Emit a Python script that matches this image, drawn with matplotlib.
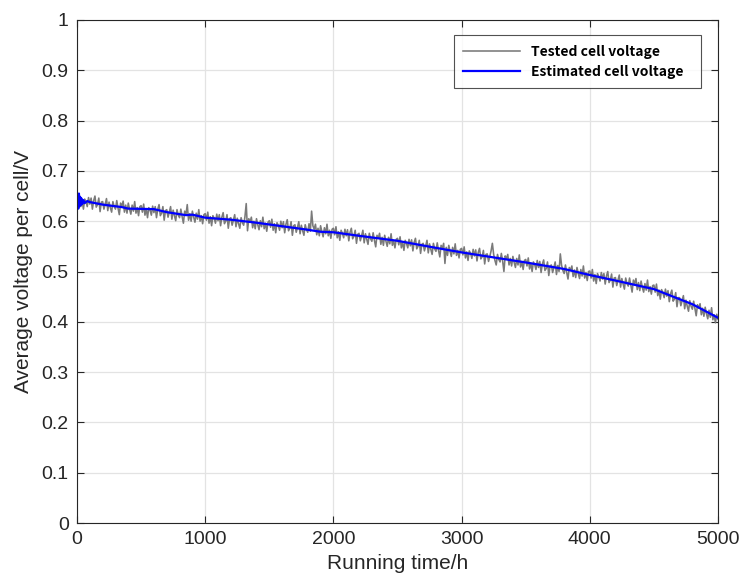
import numpy as np
import matplotlib
matplotlib.use("Agg")
import matplotlib.pyplot as plt

# Tested cell voltage, sampled every 10 h from 0 to 5000 h
tested_time = list(range(0, 5001, 10))
tested_voltage = [
    0.648, 0.635, 0.651, 0.629, 0.642, 0.624, 0.644, 0.639, 0.629, 0.647,
    0.634, 0.646, 0.624, 0.641, 0.650, 0.628, 0.633, 0.646, 0.619, 0.638,
    0.639, 0.624, 0.634, 0.645, 0.621, 0.638, 0.627, 0.618, 0.639, 0.629,
    0.624, 0.641, 0.626, 0.613, 0.636, 0.630, 0.640, 0.618, 0.632, 0.616,
    0.636, 0.624, 0.614, 0.632, 0.620, 0.639, 0.616, 0.627, 0.611, 0.629,
    0.631, 0.618, 0.634, 0.612, 0.625, 0.607, 0.627, 0.622, 0.612, 0.630,
    0.617, 0.629, 0.607, 0.624, 0.633, 0.611, 0.616, 0.629, 0.602, 0.621,
    0.623, 0.608, 0.618, 0.629, 0.604, 0.622, 0.611, 0.601, 0.623, 0.612,
    0.607, 0.624, 0.609, 0.596, 0.620, 0.613, 0.633, 0.602, 0.615, 0.600,
    0.620, 0.608, 0.598, 0.616, 0.604, 0.623, 0.600, 0.611, 0.595, 0.613,
    0.615, 0.602, 0.618, 0.596, 0.609, 0.591, 0.611, 0.606, 0.596, 0.614,
    0.601, 0.613, 0.591, 0.608, 0.617, 0.595, 0.600, 0.613, 0.586, 0.605,
    0.607, 0.592, 0.602, 0.613, 0.589, 0.606, 0.595, 0.586, 0.607, 0.597,
    0.592, 0.609, 0.635, 0.581, 0.605, 0.598, 0.608, 0.587, 0.600, 0.585,
    0.605, 0.593, 0.583, 0.601, 0.589, 0.608, 0.585, 0.596, 0.580, 0.598,
    0.601, 0.588, 0.604, 0.582, 0.595, 0.577, 0.597, 0.592, 0.582, 0.600,
    0.587, 0.599, 0.577, 0.594, 0.603, 0.581, 0.586, 0.599, 0.572, 0.591,
    0.593, 0.578, 0.588, 0.599, 0.575, 0.592, 0.581, 0.572, 0.593, 0.583,
    0.578, 0.595, 0.580, 0.620, 0.591, 0.584, 0.594, 0.573, 0.586, 0.571,
    0.591, 0.579, 0.569, 0.587, 0.575, 0.594, 0.571, 0.582, 0.566, 0.584,
    0.586, 0.573, 0.589, 0.567, 0.579, 0.562, 0.582, 0.576, 0.567, 0.584,
    0.571, 0.583, 0.561, 0.578, 0.586, 0.565, 0.570, 0.582, 0.556, 0.574,
    0.576, 0.561, 0.571, 0.582, 0.557, 0.575, 0.564, 0.554, 0.576, 0.565,
    0.560, 0.577, 0.562, 0.549, 0.572, 0.566, 0.576, 0.554, 0.568, 0.552,
    0.572, 0.560, 0.550, 0.568, 0.555, 0.575, 0.552, 0.562, 0.547, 0.564,
    0.566, 0.553, 0.569, 0.547, 0.559, 0.542, 0.562, 0.556, 0.547, 0.564,
    0.551, 0.563, 0.541, 0.558, 0.566, 0.545, 0.550, 0.562, 0.536, 0.554,
    0.556, 0.541, 0.551, 0.562, 0.537, 0.555, 0.544, 0.534, 0.556, 0.545,
    0.540, 0.557, 0.542, 0.529, 0.552, 0.546, 0.556, 0.516, 0.548, 0.532,
    0.552, 0.540, 0.530, 0.548, 0.535, 0.555, 0.532, 0.542, 0.527, 0.544,
    0.546, 0.533, 0.549, 0.527, 0.539, 0.522, 0.541, 0.536, 0.526, 0.544,
    0.531, 0.543, 0.521, 0.538, 0.546, 0.525, 0.529, 0.542, 0.515, 0.534,
    0.535, 0.520, 0.530, 0.541, 0.556, 0.534, 0.522, 0.513, 0.534, 0.524,
    0.519, 0.536, 0.521, 0.500, 0.531, 0.525, 0.534, 0.513, 0.526, 0.511,
    0.530, 0.518, 0.508, 0.526, 0.513, 0.533, 0.509, 0.520, 0.504, 0.522,
    0.524, 0.511, 0.527, 0.505, 0.517, 0.500, 0.519, 0.514, 0.504, 0.522,
    0.508, 0.520, 0.498, 0.515, 0.523, 0.502, 0.506, 0.519, 0.492, 0.511,
    0.513, 0.498, 0.508, 0.519, 0.494, 0.512, 0.500, 0.535, 0.512, 0.502,
    0.496, 0.513, 0.498, 0.485, 0.508, 0.502, 0.511, 0.490, 0.503, 0.488,
    0.508, 0.496, 0.486, 0.504, 0.491, 0.511, 0.487, 0.498, 0.482, 0.500,
    0.501, 0.487, 0.504, 0.481, 0.494, 0.476, 0.496, 0.490, 0.481, 0.498,
    0.485, 0.496, 0.475, 0.491, 0.500, 0.478, 0.483, 0.495, 0.469, 0.487,
    0.488, 0.472, 0.483, 0.493, 0.469, 0.486, 0.475, 0.465, 0.487, 0.476,
    0.471, 0.487, 0.473, 0.459, 0.483, 0.476, 0.486, 0.464, 0.478, 0.462,
    0.481, 0.468, 0.459, 0.476, 0.463, 0.483, 0.460, 0.470, 0.455, 0.472,
    0.473, 0.459, 0.475, 0.452, 0.463, 0.445, 0.464, 0.458, 0.448, 0.465,
    0.451, 0.462, 0.440, 0.456, 0.463, 0.441, 0.445, 0.458, 0.430, 0.448,
    0.448, 0.432, 0.442, 0.452, 0.426, 0.443, 0.431, 0.421, 0.442, 0.431,
    0.425, 0.441, 0.426, 0.412, 0.434, 0.427, 0.436, 0.414, 0.427, 0.411,
    0.429, 0.416, 0.406, 0.423, 0.409, 0.428, 0.404, 0.414, 0.398, 0.415,
    0.405,
]

# Estimated cell voltage
est_time = [0, 5, 10, 15, 20, 25, 30, 35, 40, 50, 60, 80, 100, 200, 350, 400,
            600, 700, 850, 900, 1000, 1200, 1400, 1600, 1800, 1900, 2000, 2200,
            2500, 2800, 3000, 3200, 3500, 3800, 4000, 4200, 4500, 4800, 5000]
est_voltage = [0.640, 0.652, 0.625, 0.655, 0.630, 0.648, 0.632, 0.645, 0.634, 0.642,
               0.636, 0.640, 0.638, 0.633, 0.628, 0.625,
               0.624, 0.618, 0.612, 0.613, 0.607, 0.603, 0.597, 0.590, 0.583, 0.579,
               0.578, 0.571, 0.561, 0.547, 0.538, 0.530, 0.518, 0.505, 0.493, 0.482,
               0.465, 0.435, 0.408]

x_ticks = [0, 1000, 2000, 3000, 4000, 5000]
y_ticks = [0, 0.1, 0.2, 0.3, 0.4, 0.5, 0.6, 0.7, 0.8, 0.9, 1]
y_tick_labels = ["0", "0.1", "0.2", "0.3", "0.4", "0.5", "0.6", "0.7", "0.8", "0.9", "1"]

plt.rcParams['font.family'] = ['Liberation Sans', 'DejaVu Sans']

fig = plt.figure(figsize=(7.39, 5.82), dpi=100)
ax = fig.add_axes([77/739, 1-523/582, 641/739, 503/582])

ax.plot(tested_time, tested_voltage, color='#7a7a7a', lw=1.15, label='Tested cell voltage')
ax.plot(est_time, est_voltage, color='#0000ff', lw=1.6, label='Estimated cell voltage')

ax.set_xlim(0, 5000)
ax.set_ylim(0, 1)
ax.set_xticks(x_ticks)
ax.set_xticklabels([str(t) for t in x_ticks])
ax.set_yticks(y_ticks)
ax.set_yticklabels(y_tick_labels)
ax.grid(True, color='#e3e3e3', lw=0.9)
ax.set_axisbelow(True)
ax.tick_params(direction='in', top=True, right=True, length=5, width=0.8,
               labelsize=14, colors='#262626', pad=6)
for s in ax.spines.values():
    s.set_color('#262626')
    s.set_linewidth(0.8)

ax.set_xlabel('Running time/h', fontsize=15, color='#262626', labelpad=4)
ax.set_ylabel('Average voltage per cell/V', fontsize=15, color='#262626', labelpad=6)

leg = ax.legend(loc='upper left', bbox_to_anchor=(0.588, 0.0, 0.385, 0.970),
                mode='expand', borderaxespad=0,
                prop={'family': ['Noto Sans CJK SC', 'DejaVu Sans'], 'size': 10, 'weight': 'bold'},
                frameon=True, fancybox=False, edgecolor='#262626', handlelength=4.1,
                labelspacing=0.45, borderpad=0.68, handletextpad=0.8)
leg.get_frame().set_linewidth(0.8)

fig.savefig('out.png', dpi=100)
